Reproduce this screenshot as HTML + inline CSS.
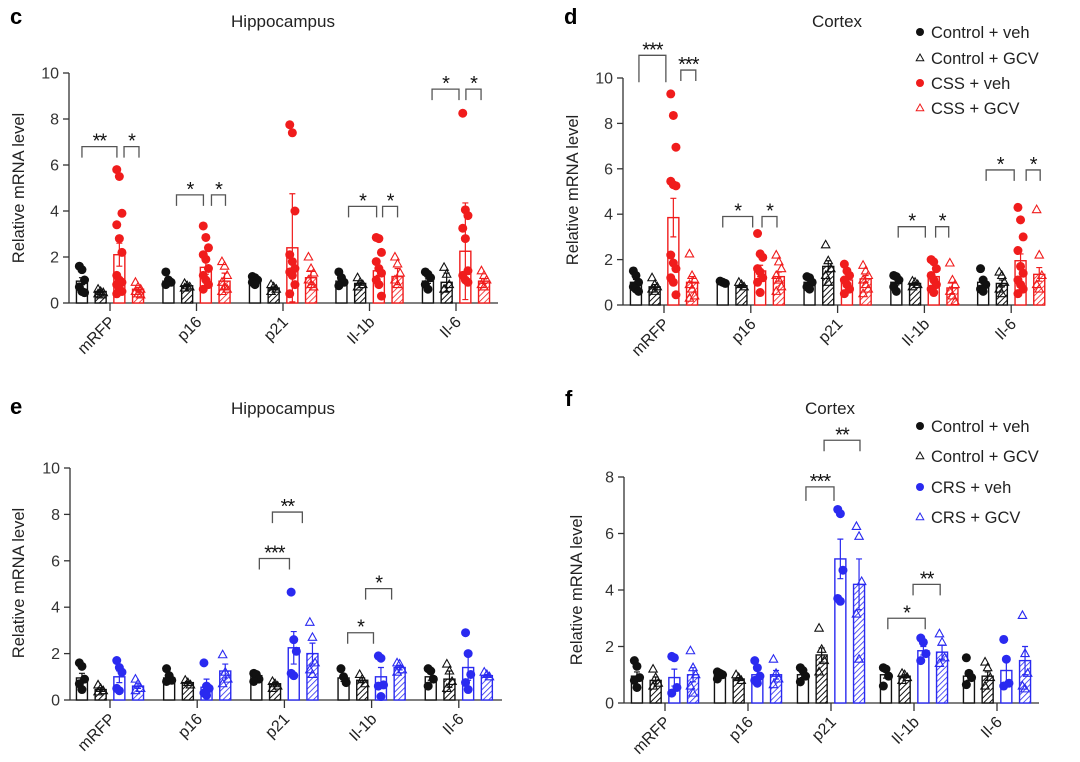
<!DOCTYPE html>
<html><head><meta charset="utf-8">
<style>
html,body{margin:0;padding:0;background:#fff;}
svg{display:block;font-family:"Liberation Sans",Arial,sans-serif;}
</style></head>
<body>
<svg id="fig" width="1080" height="762" viewBox="0 0 1080 762" xmlns="http://www.w3.org/2000/svg">
<defs>
<pattern id="hatch-black" patternUnits="userSpaceOnUse" width="4" height="4" patternTransform="rotate(45)"><rect width="4" height="4" fill="#fff"/><line x1="0" y1="0" x2="0" y2="4" stroke="#111" stroke-width="2"/></pattern>
<pattern id="hatch-red" patternUnits="userSpaceOnUse" width="4" height="4" patternTransform="rotate(45)"><rect width="4" height="4" fill="#fff"/><line x1="0" y1="0" x2="0" y2="4" stroke="#f01c1c" stroke-width="1.6"/></pattern>
<pattern id="hatch-blue" patternUnits="userSpaceOnUse" width="4" height="4" patternTransform="rotate(45)"><rect width="4" height="4" fill="#fff"/><line x1="0" y1="0" x2="0" y2="4" stroke="#2a2af0" stroke-width="1.6"/></pattern>
</defs>
</svg>
<script>
// ===== shared data =====
const genes = ["mRFP","p16","p21","Il-1b","Il-6"];
const legendCSS = ["Control + veh","Control + GCV","CSS + veh","CSS + GCV"];
const legendCRS = ["Control + veh","Control + GCV","CRS + veh","CRS + GCV"];

// ===== panel c (Hippocampus, CSS) =====
const cMeans = [[0.95,0.5,2.1,0.6],[0.95,0.75,1.55,0.95],[1.05,0.65,2.4,1.1],[0.95,0.85,1.4,1.15],[0.95,0.9,2.25,0.95]];
const cErrs = [[0.15,0.06,0.5,0.08],[0.1,0.05,0.3,0.35],[0.05,0.05,2.35,0.3],[0.1,0.06,0.2,0.35],[0.1,0.4,2.1,0.1]];
const cPoints = [
 [[1.6,1.45,1.0,0.7,0.5,0.45],[0.6,0.5,0.45,0.4,0.35],[5.8,5.5,3.9,3.4,2.8,2.2,1.2,1.0,0.9,0.8,0.6,0.5,0.4],[0.9,0.7,0.6,0.5,0.4,0.35]],
 [[1.35,1.0,0.9,0.8],[0.85,0.75,0.7,0.65],[3.35,2.85,2.4,2.1,1.9,1.5,1.2,1.0,0.8,0.6],[1.8,1.6,1.2,0.9,0.7,0.6,0.5]],
 [[1.15,1.1,1.0,0.9,0.8],[0.8,0.7,0.6,0.5],[7.75,7.4,4.0,2.1,1.8,1.5,1.35,1.2,0.8,0.4],[2.0,1.5,1.3,1.0,0.8,0.7]],
 [[1.35,1.1,0.9,0.75],[1.1,0.9,0.8,0.7],[2.85,2.8,2.2,1.8,1.5,1.3,1.0,0.8,0.3],[2.0,1.7,1.3,1.0,0.8]],
 [[1.35,1.25,1.1,0.8,0.6],[1.55,1.25,0.8,0.6],[8.25,4.05,3.8,3.25,2.8,1.4,1.2,1.0,0.9],[1.4,1.2,1.0,0.8,0.7]]];
const cBrackets = [[0,0,1.87,6.8,"**"],[0,2.25,3.05,6.8,"*"],[1,0.43,1.87,4.7,"*"],[1,2.3,3.05,4.7,"*"],[3,0.38,1.88,4.2,"*"],[3,2.2,3.0,4.2,"*"],[4,0.22,1.66,9.3,"*"],[4,2.03,2.84,9.3,"*"]];
const cTicks = [0,2,4,6,8,10];

// ===== panel d (Cortex, CSS) =====
const dMeans = [[1.0,0.8,3.85,1.0],[1.0,0.85,1.5,1.25],[1.0,1.7,1.1,1.15],[1.0,0.95,1.25,0.75],[1.0,0.95,1.95,1.35]];
const dErrs = [[0.12,0.1,0.85,0.25],[0.03,0.05,0.25,0.2],[0.1,0.25,0.15,0.15],[0.12,0.05,0.18,0.25],[0.15,0.15,0.3,0.3]];
const dPoints = [
 [[1.5,1.3,1.0,0.8,0.7,0.6],[1.2,0.9,0.8,0.7,0.6],[9.3,8.35,6.95,5.45,5.3,5.25,2.2,1.85,1.6,1.2,1.0,0.45],[2.25,1.3,1.1,0.9,0.7,0.4,0.3]],
 [[1.05,1.0,0.95],[1.0,0.9,0.8],[3.15,2.25,2.1,1.6,1.45,1.2,1.0,0.55],[2.2,1.9,1.6,1.3,1.1,0.8,0.6]],
 [[1.25,1.2,1.0,0.8,0.7],[2.65,1.95,1.6,1.3,1.0],[1.8,1.5,1.3,1.1,0.9,0.7,0.5],[1.75,1.5,1.3,1.1,0.9,0.7,0.5]],
 [[1.3,1.25,1.1,0.8,0.6],[1.05,1.0,0.9,0.8],[2.0,1.9,1.6,1.3,1.1,0.9,0.7,0.55],[1.85,1.1,0.9,0.6,0.4,0.15]],
 [[1.6,1.1,0.9,0.7,0.6],[1.45,1.3,1.0,0.7,0.5],[4.3,3.75,3.0,2.4,1.7,1.4,1.1,0.9,0.7,0.5],[4.2,2.2,1.3,0.9,0.7]]];
const dBrackets = [[0,0.16,1.6,11.0,"***"],[0,2.4,3.2,10.35,"***"],[1,0,1.6,3.9,"*"],[1,2.1,2.9,3.9,"*"],[3,0.1,1.55,3.45,"*"],[3,2.1,2.8,3.45,"*"],[4,0.16,1.66,5.95,"*"],[4,2.3,3.05,5.95,"*"]];
const dTicks = [0,2,4,6,8,10];

// ===== panel e (Hippocampus, CRS) =====
const eMeans = [[0.95,0.45,1.0,0.6],[0.95,0.75,0.55,1.25],[1.05,0.7,2.25,2.0],[0.95,0.85,1.0,1.4],[1.0,0.9,1.4,1.05]];
const eErrs = [[0.2,0.08,0.25,0.1],[0.1,0.05,0.35,0.3],[0.05,0.06,0.7,0.45],[0.15,0.1,0.4,0.1],[0.15,0.35,0.55,0.05]];
const ePoints = [
 [[1.6,1.45,0.9,0.7,0.45],[0.65,0.5,0.4,0.35],[1.7,1.4,1.2,0.5,0.4],[0.9,0.7,0.5,0.4]],
 [[1.35,1.05,0.85,0.8],[0.85,0.75,0.65],[1.6,0.6,0.5,0.3,0.2],[1.95,1.2,0.9,0.7]],
 [[1.15,1.1,0.9,0.8],[0.8,0.7,0.6,0.5],[4.65,2.6,2.1,1.15,1.05],[3.35,2.7,1.6,1.3,1.1]],
 [[1.35,1.0,0.75],[1.1,0.9,0.7],[1.9,1.8,0.65,0.6,0.15],[1.6,1.55,1.3,1.2]],
 [[1.35,1.25,0.9,0.6],[1.55,1.25,0.8,0.5],[2.9,2.0,1.1,0.75,0.45],[1.2,1.1,1.0]]];
const eBrackets = [[2,0.16,1.77,6.1,"***"],[2,0.86,2.46,8.1,"**"],[3,0.22,1.6,2.9,"*"],[3,1.18,2.57,4.8,"*"]];
const eTicks = [0,2,4,6,8,10];

// ===== panel f (Cortex, CRS) =====
const fMeans = [[0.95,0.8,0.9,1.0],[1.0,0.85,1.0,1.0],[1.0,1.7,5.1,4.2],[1.0,0.95,1.85,1.8],[0.95,0.95,1.15,1.5]];
const fErrs = [[0.15,0.12,0.3,0.25],[0.05,0.05,0.15,0.15],[0.1,0.25,0.7,0.9],[0.12,0.05,0.15,0.25],[0.15,0.15,0.45,0.5]];
const fPoints = [
 [[1.5,1.3,0.9,0.8,0.55],[1.2,0.9,0.7,0.6],[1.65,1.6,0.55,0.35],[1.85,1.25,1.0,0.6,0.35]],
 [[1.1,1.05,1.0,0.85],[1.0,0.9,0.8],[1.5,1.25,0.95,0.8,0.7],[1.55,1.05,0.85,0.65]],
 [[1.25,1.15,0.95,0.75],[2.65,1.9,1.5,1.1],[6.85,6.7,4.7,3.7,3.6],[6.25,5.9,4.3,3.15,1.55]],
 [[1.25,1.2,0.95,0.6],[1.05,1.0,0.9,0.8],[2.3,2.15,1.75,1.5],[2.45,2.15,1.6,1.4]],
 [[1.6,1.05,0.9,0.65],[1.45,1.25,0.9,0.6],[2.25,1.55,0.7,0.6],[3.1,1.75,1.05,0.6,0.5]]];
const fBrackets = [[2,0.16,1.66,7.65,"***"],[2,1.13,3.05,9.3,"**"],[3,0.1,2.1,3.0,"*"],[3,1.45,2.9,4.2,"**"]];
const fTicks = [0,2,4,6,8];

// ===== drawing =====
const svg = document.getElementById('fig');
const NS = 'http://www.w3.org/2000/svg';
function mk(tag, attrs, parent){
  const e = document.createElementNS(NS, tag);
  for (const k in attrs) e.setAttribute(k, attrs[k]);
  (parent||svg).appendChild(e);
  return e;
}
function txt(s, attrs, parent){ const t = mk('text', attrs, parent); t.textContent = s; return t; }

function drawPanel(p){
  const g = mk('g', {});
  
  
  const yS = v => p.y0 - (v / p.ymax) * (p.y0 - p.yTop);
  const xG = (gi, grp) => p.x0 + gi * p.step + (grp - 1.5) * 18.7;
  const colors = ['#111', '#111', p.color, p.color];
  const fills = ['#fff', 'url(#hatch-black)', '#fff', 'url(#' + p.hatch + ')'];

  const L = txt(p.letter, {x:p.lx, y:p.ly, 'font-size':22, 'font-weight':'bold', fill:'#000'}, g);
  
  
  const T = txt(p.title, {x:p.tx, y:p.ty, 'font-size':17, 'text-anchor':'middle', fill:'#222'}, g);
  
  

  const ya = mk('line', {x1:p.ax, y1:p.yTop, x2:p.ax, y2:p.y0, stroke:'#333', 'stroke-width':1.3}, g);
  
  
  p.ticks.forEach(t => {
    const y = yS(t);
    mk('line', {x1:p.ax-6, y1:y, x2:p.ax, y2:y, stroke:'#333', 'stroke-width':1.3}, g);
    const tl = txt(String(t), {x:p.ax-10, y:y+5.5, 'font-size':16, 'text-anchor':'end', fill:'#333'}, g);
    
    
  });
  const yt = txt('Relative mRNA level', {x:0, y:0, 'font-size':16.5, 'text-anchor':'middle', fill:'#222', transform:'translate(' + p.ytx + ',' + p.yty + ') rotate(-90)'}, g);
  
  

  const xa = mk('line', {x1:p.ax, y1:p.y0, x2:p.axEnd, y2:p.y0, stroke:'#333', 'stroke-width':1.3}, g);
  
  

  genes.forEach((gn, gi) => {
    const cx = p.x0 + gi * p.step;
    mk('line', {x1:cx, y1:p.y0, x2:cx, y2:p.y0+8, stroke:'#333', 'stroke-width':1.3}, g);
    const xl = txt(gn, {x:0, y:0, 'font-size':16, 'text-anchor':'end', fill:'#222', transform:'translate(' + (cx+6) + ',' + (p.y0+20) + ') rotate(-45)'}, g);
    
    

    for (let k = 0; k < 4; k++){
      const x = xG(gi, k), m = p.means[gi][k], e = p.errs[gi][k];
      const bar = mk('rect', {x:x-5.5, y:yS(m), width:11, height:p.y0-yS(m), fill:fills[k], stroke:colors[k], 'stroke-width':1.4}, g);
      
      
      const lo = Math.max(0, m - e), hi = m + e;
      const eb = mk('path', {d:'M'+x+' '+yS(lo)+'V'+yS(hi)+'M'+(x-3)+' '+yS(hi)+'H'+(x+3)+'M'+(x-3)+' '+yS(lo)+'H'+(x+3), stroke:colors[k], 'stroke-width':1.2, fill:'none'}, g);
      
      
      p.points[gi][k].forEach((v, i) => {
        const jx = x + ((i % 3) - 1) * 2.6;
        const y = yS(v);
        let pt;
        if (k % 2 === 0){
          pt = mk('circle', {cx:jx, cy:y, r:4.5, fill:colors[k]}, g);
        } else {
          pt = mk('path', {d:'M'+jx+' '+(y-4.5)+'L'+(jx+4.2)+' '+(y+3)+'L'+(jx-4.2)+' '+(y+3)+'Z', fill:'none', stroke:colors[k], 'stroke-width':1.1}, g);
        }
        
        
      });
    }
  });

  p.brackets.forEach(b => {
    const x1 = xG(b[0], b[1]), x2 = xG(b[0], b[2]), y = yS(b[3]);
    const leg = b[5] || 11;
    const br = mk('path', {d:'M'+x1+' '+(y+leg)+'V'+y+'H'+x2+'V'+(y+leg), stroke:'#555', 'stroke-width':1.3, fill:'none'}, g);
    
    
    const st = txt(b[4], {x:(x1+x2)/2, y:y+1, 'font-size':20, 'text-anchor':'middle', fill:'#111', 'letter-spacing':'-1'}, g);
    
    
  });

  if (p.legend){
    const lg = mk('g', {}, g);
    
    
    p.legend.forEach((s, i) => {
      const y = p.legY[i];
      const col = i < 2 ? '#111' : p.color;
      if (i % 2 === 0) mk('circle', {cx:p.legX, cy:y, r:4, fill:col}, lg);
      else mk('path', {d:'M'+p.legX+' '+(y-4)+'L'+(p.legX+3.8)+' '+(y+2.8)+'L'+(p.legX-3.8)+' '+(y+2.8)+'Z', fill:'none', stroke:col, 'stroke-width':1}, lg);
      const le = txt(s, {x:p.legX+11, y:y+6, 'font-size':16.5, fill:'#222'}, lg);
      
      
    });
  }
}

const dBr = dBrackets.map((b, i) => i === 0 ? b.concat([27]) : b);
const fBr = fBrackets.map((b, i) => i === 0 ? b.concat([14]) : b);

drawPanel({letter:'c', title:'Hippocampus', lx:10, ly:24, tx:283, ty:27, ax:69, axEnd:498, y0:303, yTop:73, ymax:10, x0:110, step:86.5, ytx:24, yty:188, color:'#f01c1c', hatch:'hatch-red', means:cMeans, errs:cErrs, points:cPoints, brackets:cBrackets, ticks:cTicks});
drawPanel({letter:'d', title:'Cortex', lx:564, ly:24, tx:837, ty:27, ax:623, axEnd:1045, y0:305, yTop:78, ymax:10, x0:664, step:86.8, ytx:578, yty:190, color:'#f01c1c', hatch:'hatch-red', means:dMeans, errs:dErrs, points:dPoints, brackets:dBr, ticks:dTicks, legend:legendCSS, legX:920, legY:[32,58,83,108]});
drawPanel({letter:'e', title:'Hippocampus', lx:10, ly:414, tx:283, ty:414, ax:70, axEnd:502, y0:700, yTop:468, ymax:10, x0:110, step:87.2, ytx:24, yty:583, color:'#2a2af0', hatch:'hatch-blue', means:eMeans, errs:eErrs, points:ePoints, brackets:eBrackets, ticks:eTicks});
drawPanel({letter:'f', title:'Cortex', lx:565, ly:406, tx:830, ty:414, ax:624, axEnd:1039, y0:703, yTop:477, ymax:8, x0:665, step:83, ytx:582, yty:590, color:'#2a2af0', hatch:'hatch-blue', means:fMeans, errs:fErrs, points:fPoints, brackets:fBr, ticks:fTicks, legend:legendCRS, legX:920, legY:[426,456,487,517]});
</script>
</body></html>
